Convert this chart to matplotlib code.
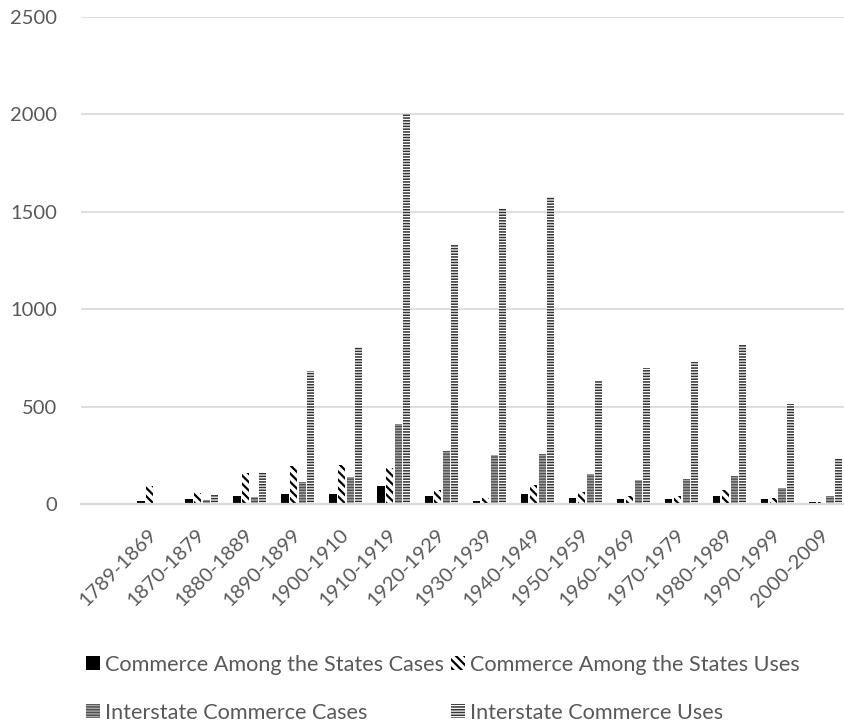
import numpy as np
import matplotlib
matplotlib.use("Agg")
import matplotlib.pyplot as plt

plt.rcParams['font.family'] = ['Lato', 'DejaVu Sans']
plt.rcParams['hatch.linewidth'] = 1.6

periods = ['1789-1869', '1870-1879', '1880-1889', '1890-1899', '1900-1910',
           '1910-1919', '1920-1929', '1930-1939', '1940-1949', '1950-1959',
           '1960-1969', '1970-1979', '1980-1989', '1990-1999', '2000-2009']
cats_cases = [17, 29, 45, 55, 55, 95, 41, 17, 52, 34, 28, 28, 45, 28, 10]
cats_uses = [93, 59, 159, 197, 202, 188, 74, 33, 97, 64, 45, 45, 74, 34, 12]
ic_cases = [0, 24, 40, 116, 141, 414, 271, 253, 257, 153, 124, 129, 145, 83, 45]
ic_uses = [0, 54, 162, 685, 808, 2000, 1332, 1518, 1578, 638, 700, 731, 823, 515, 240]

labels = ['Commerce Among the States Cases', 'Commerce Among the States Uses',
          'Interstate Commerce Cases', 'Interstate Commerce Uses']

fig = plt.figure(figsize=(8.44, 7.27), dpi=100)
ax = fig.add_axes([81 / 844, 1 - 504.3 / 727, 1 - 81 / 844, (504.3 - 17) / 727])

x = np.arange(len(periods))
pitch = 0.18
w = 0.15
styles = [
    dict(color='black', edgecolor='black', hatch=None, hlw=1.6),
    dict(color='white', edgecolor='black', hatch='\\\\\\\\', hlw=1.6),
    dict(color='#a6a6a6', edgecolor='#505050', hatch='------', hlw=1.0),
    dict(color='white', edgecolor='#333333', hatch='------', hlw=1.1),
]
series = [cats_cases, cats_uses, ic_cases, ic_uses]
handles = []
for i, (vals, st, lab) in enumerate(zip(series, styles, labels)):
    plt.rcParams['hatch.linewidth'] = st['hlw']
    b = ax.bar(x + (i - 1.5) * pitch, vals, width=w, linewidth=0,
               facecolor=st['color'], edgecolor=st['edgecolor'], hatch=st['hatch'],
               label=lab, zorder=3)
    for p in b.patches:
        if hasattr(p, 'set_hatch_linewidth'):
            p.set_hatch_linewidth(st['hlw'])
    handles.append(b)

ax.set_ylim(0, 2500)
ax.set_yticks(range(0, 2501, 500))
ax.set_xlim(-1.52, 14.38)
ax.set_xticks(x)
ax.set_xticklabels(periods, rotation=45, ha='right', va='center',
                   rotation_mode='anchor')
ax.tick_params(axis='both', length=0, labelsize=14.5, labelcolor='#595959')
ax.tick_params(axis='y', pad=17)
ax.tick_params(axis='x', pad=20)
ax.grid(axis='y', color='#d9d9d9', linewidth=1.2, zorder=0)
for s in ['top', 'right', 'left']:
    ax.spines[s].set_visible(False)
ax.spines['bottom'].set_color('#d9d9d9')
ax.spines['bottom'].set_linewidth(1.6)
ax.spines['bottom'].set_zorder(4)

# row-wise legend order: matplotlib fills columns first
order = [0, 2, 1, 3]
leg = fig.legend([handles[k] for k in order], [labels[k] for k in order],
                 loc='upper left', bbox_to_anchor=(77 / 844, 1 - 646 / 727),
                 ncol=2, frameon=False, fontsize=15.6, labelcolor='#595959',
                 handlelength=0.65, handleheight=0.65, handletextpad=0.25,
                 columnspacing=0.3, labelspacing=1.3, borderaxespad=0)
for h, k in zip(leg.legend_handles, order):
    if hasattr(h, 'set_hatch_linewidth'):
        h.set_hatch_linewidth(styles[k]['hlw'])

fig.savefig('out.png', dpi=100)
